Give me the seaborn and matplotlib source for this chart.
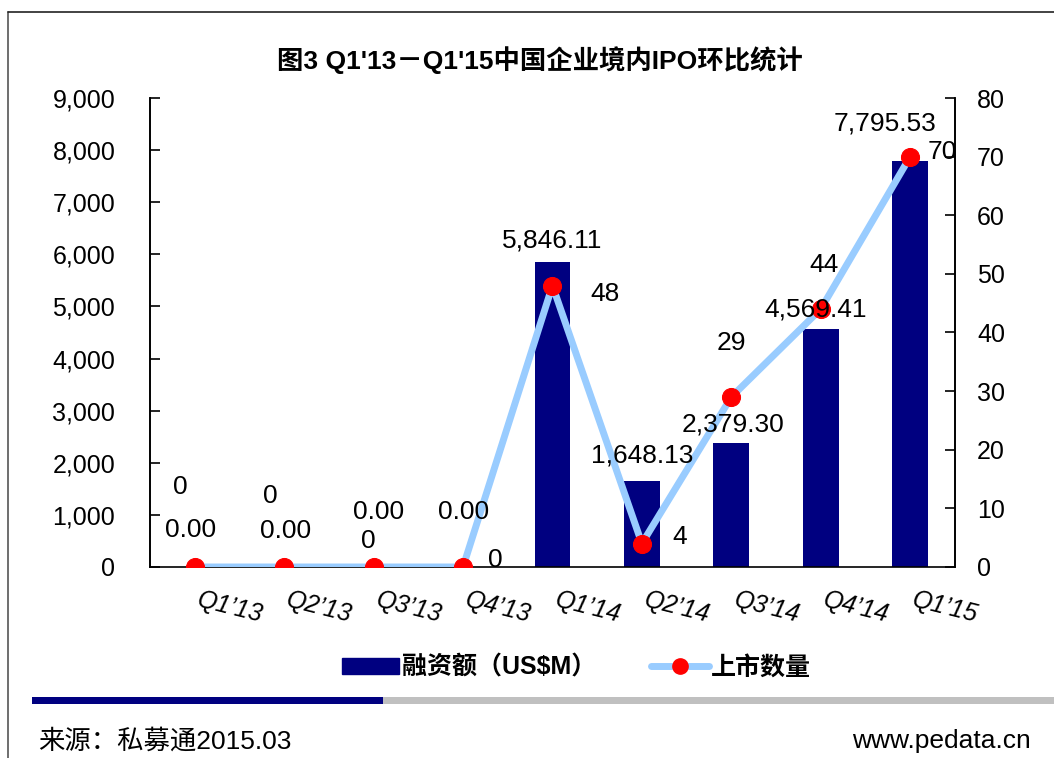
import numpy as np
import matplotlib
matplotlib.use("Agg")
import matplotlib.pyplot as plt
import seaborn as sns
from matplotlib.patches import Patch, Rectangle
from matplotlib.lines import Line2D

quarters = ["Q1’13", "Q2’13", "Q3’13", "Q4’13", "Q1’14", "Q2’14", "Q3’14", "Q4’14", "Q1’15"]
amounts = [0.00, 0.00, 0.00, 0.00, 5846.11, 1648.13, 2379.30, 4569.41, 7795.53]
counts = [0, 0, 0, 0, 48, 4, 29, 44, 70]

# label offsets in pixels (dx, dy) from bar top / marker
amt_off = [(-4, 37), (1, 36), (5, 55), (1, 55), (0, 22), (0, 26), (2, 19), (-5, 19), (-25, 37)]
cnt_off = [(-14, 80), (-14, 71), (-5, 26), (32, 7), (53, -8), (38, 7), (0, 54), (3, 44), (32, 5)]

navy = "#000080"
lightblue = "#99CCFF"

sns.set_style("white")
plt.rcParams["font.family"] = ["Liberation Sans", "Noto Sans CJK SC", "DejaVu Sans"]
for k in ("text.color", "axes.labelcolor", "xtick.color", "ytick.color"):
    plt.rcParams[k] = "black"

fig = plt.figure(figsize=(10.54, 7.58), dpi=100)
ax1 = fig.add_axes([0.1423, 0.252, 0.7637, 0.6187])
ax2 = ax1.twinx()

sns.barplot(x=quarters, y=amounts, color=navy, saturation=1, width=0.4, linewidth=0, ax=ax1)
sns.lineplot(x=np.arange(len(counts)), y=counts, ax=ax2, color=lightblue, lw=5,
             marker="o", markersize=13, markerfacecolor="red", markeredgecolor="red")

ax1.set_xlim(-0.5, 8.5)
ax1.set_ylim(0, 9000)
ax2.set_ylim(0, 80)
ax1.set_yticks(np.arange(0, 9001, 1000))
ax1.set_yticklabels([f"{v:,}" for v in range(0, 9001, 1000)])
ax2.set_yticks(np.arange(0, 81, 10))
ax1.set_xlabel("")
ax1.set_ylabel("")
ax2.set_ylabel("")

ax1.set_xticks(range(len(quarters)))
ax1.set_xticklabels(quarters, rotation=-14, style="italic", fontsize=18, ha="left", va="top")
ax1.set_xticks(np.arange(-0.5, 9, 1), minor=True)
ax1.tick_params(axis="x", which="major", length=0, pad=15)
ax1.tick_params(axis="x", which="minor", direction="in", length=4, width=1.2, color="black")
ax1.tick_params(axis="y", direction="in", length=7, width=1.2, color="black", labelsize=18, pad=25, left=True)
ax2.tick_params(axis="y", direction="in", length=7, width=1.2, color="black", labelsize=18, pad=16, right=True)

for ax in (ax1, ax2):
    ax.grid(False)
    ax.spines["top"].set_visible(False)
    for s in ("left", "right", "bottom"):
        ax.spines[s].set_color("black")
        ax.spines[s].set_linewidth(1.2)
ax2.spines["bottom"].set_visible(False)

for i, (a, (dx, dy)) in enumerate(zip(amounts, amt_off)):
    ax2.annotate(f"{a:,.2f}", xy=(i, a), xycoords=ax1.transData, xytext=(dx, dy),
                 textcoords="offset pixels", ha="center", va="center", fontsize=19, zorder=10)
for i, (c, (dx, dy)) in enumerate(zip(counts, cnt_off)):
    ax2.annotate(f"{c}", xy=(i, c), xytext=(dx, dy), textcoords="offset pixels",
                 ha="center", va="center", fontsize=19, zorder=10)

fig.text(0.512, 0.921, "图3 Q1'13－Q1'15中国企业境内IPO环比统计", ha="center", va="center",
         fontsize=19, fontweight="bold")

handles = [Patch(facecolor=navy, edgecolor=navy),
           Line2D([0], [0], color=lightblue, lw=5, marker="o", markersize=11,
                  markerfacecolor="red", markeredgecolor="red")]
fig.legend(handles, ["融资额（US$M）", "上市数量"], loc="center", bbox_to_anchor=(0.547, 0.119),
           ncol=2, frameon=False, prop={"size": 18, "weight": "bold"},
           handlelength=2.3, handleheight=0.6, columnspacing=2.2, handletextpad=0.1)

# bottom stripe and frame
fig.add_artist(Rectangle((0.0304, 0.0712), 0.333, 0.0093, transform=fig.transFigure,
                         facecolor=navy, edgecolor="none"))
fig.add_artist(Rectangle((0.3634, 0.0712), 0.64, 0.0093, transform=fig.transFigure,
                         facecolor="#C0C0C0", edgecolor="none"))
fig.add_artist(Line2D([0.0076, 0.0076], [0.0, 0.984], transform=fig.transFigure, color="#555555", lw=1.2))
fig.add_artist(Line2D([0.0076, 1.0], [0.984, 0.984], transform=fig.transFigure, color="#222222", lw=1.2))

fig.text(0.036, 0.0224, "来源：私募通2015.03", ha="left", va="center", fontsize=19)
fig.text(0.978, 0.0224, "www.pedata.cn", ha="right", va="center", fontsize=19)

fig.savefig("out.png", dpi=100)
